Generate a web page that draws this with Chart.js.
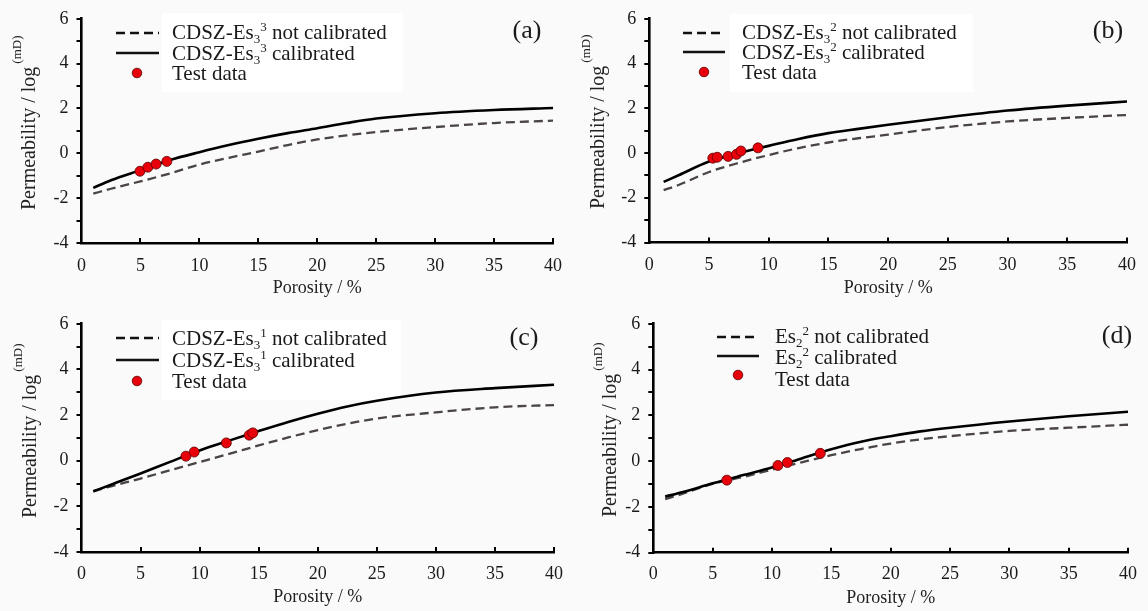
<!DOCTYPE html>
<html>
<head>
<meta charset="utf-8">
<script src="https://cdn.jsdelivr.net/npm/chart.js@4.4.1/dist/chart.umd.min.js"></script>
<style>
html,body{margin:0;padding:0;background:#fafafa;}
#wrap{position:relative;width:1148px;height:611px;overflow:hidden;background:#fafafa;}
canvas{position:absolute;display:block;}
</style>
</head>
<body>
<div id="wrap">
<canvas id="ca" width="574" height="305" style="left:0;top:0"></canvas>
<canvas id="cb" width="574" height="305" style="left:574px;top:0"></canvas>
<canvas id="cc" width="574" height="306" style="left:0;top:305px"></canvas>
<canvas id="cd" width="574" height="306" style="left:574px;top:305px"></canvas>
</div>
<script>
// ---- data ----
const xTickLabels = [0, 5, 10, 15, 20, 25, 30, 35, 40];
const yTickLabels = [-4, -2, 0, 2, 4, 6];
const xAxisTitle = 'Porosity / %';
const yAxisTitle = 'Permeability / log';
const yAxisUnit = '(mD)';

const porosityKnots  = [1, 2.5, 5, 7.5, 10, 12.5, 15, 17.5, 20, 22.5, 25, 30, 35, 40];
const porosityKnotsB = [1.2, 2.5, 5, 7.5, 10, 12.5, 15, 17.5, 20, 22.5, 25, 30, 35, 40];

// (a) CDSZ-Es3^3
const aNotCalibrated = [-1.8, -1.58, -1.25, -0.9, -0.5, -0.2, 0.08, 0.37, 0.62, 0.8, 0.95, 1.17, 1.35, 1.46];
const aCalibrated    = [-1.54, -1.2, -0.75, -0.3, 0.05, 0.37, 0.65, 0.9, 1.12, 1.35, 1.55, 1.79, 1.93, 2.02];
const aTestX = [4.96, 5.63, 6.33, 7.24];
const aTestY = [-0.8, -0.62, -0.48, -0.36];
const aLegend = ['CDSZ-Es_{3}^{3} not calibrated', 'CDSZ-Es_{3}^{3} calibrated', 'Test data'];

// (b) CDSZ-Es3^2
const bNotCalibrated = [-1.66, -1.42, -0.85, -0.44, -0.09, 0.22, 0.47, 0.66, 0.82, 1.0, 1.16, 1.41, 1.57, 1.7];
const bCalibrated    = [-1.29, -0.98, -0.38, 0.0, 0.32, 0.63, 0.89, 1.08, 1.26, 1.43, 1.6, 1.9, 2.12, 2.3];
const bTestX = [5.32, 5.69, 6.6, 7.3, 7.67, 9.1];
const bTestY = [-0.23, -0.19, -0.15, -0.06, 0.09, 0.23];
const bLegend = ['CDSZ-Es_{3}^{2} not calibrated', 'CDSZ-Es_{3}^{2} calibrated', 'Test data'];

// (c) CDSZ-Es3^1
const cNotCalibrated = [-1.34, -1.12, -0.78, -0.42, -0.06, 0.3, 0.67, 1.02, 1.34, 1.62, 1.85, 2.12, 2.34, 2.44];
const cCalibrated    = [-1.34, -1.05, -0.56, -0.05, 0.45, 0.88, 1.3, 1.7, 2.06, 2.38, 2.63, 2.99, 3.18, 3.33];
const cTestX = [8.84, 9.54, 12.26, 14.2, 14.5];
const cTestY = [0.2, 0.38, 0.78, 1.12, 1.22];
const cLegend = ['CDSZ-Es_{3}^{1} not calibrated', 'CDSZ-Es_{3}^{1} calibrated', 'Test data'];

// (d) Es2^2
const dNotCalibrated = [-1.66, -1.42, -0.99, -0.7, -0.37, -0.05, 0.26, 0.53, 0.77, 0.95, 1.09, 1.32, 1.46, 1.59];
const dCalibrated    = [-1.55, -1.35, -0.97, -0.62, -0.28, 0.12, 0.52, 0.85, 1.09, 1.3, 1.46, 1.73, 1.96, 2.16];
const dTestX = [6.2, 10.5, 11.3, 14.07];
const dTestY = [-0.83, -0.19, -0.06, 0.34];
const dLegend = ['Es_{2}^{2} not calibrated', 'Es_{2}^{2} calibrated', 'Test data'];

// ---- helpers ----
const SERIF = '"Liberation Serif", "Times New Roman", serif';
const pairs = (xs, ys) => xs.map((x, i) => ({x: x, y: ys[i]}));
const plain = s => s.replace(/_\{(\d)\}/g, (m, d) => String.fromCharCode(0x2080 + +d))
                    .replace(/\^\{(\d)\}/g, (m, d) => ({'1':'\u00b9','2':'\u00b2','3':'\u00b3'})[d] || d);

function parseRich(text) {
  const segs = [];
  const re = /(_|\^)\{([^}]*)\}/g;
  let last = 0, m;
  while ((m = re.exec(text)) !== null) {
    if (m.index > last) segs.push({t: 'n', s: text.slice(last, m.index)});
    segs.push({t: m[1] === '_' ? 'sub' : 'sup', s: m[2]});
    last = re.lastIndex;
  }
  if (last < text.length) segs.push({t: 'n', s: text.slice(last)});
  return segs;
}
function drawRich(ctx, text, x, y, size) {
  let cx = x;
  ctx.textAlign = 'left';
  ctx.textBaseline = 'alphabetic';
  for (const seg of parseRich(text)) {
    if (seg.t === 'n') {
      ctx.font = size + 'px ' + SERIF;
      ctx.fillText(seg.s, cx, y);
    } else {
      const s = Math.round(size * 0.64);
      ctx.font = s + 'px ' + SERIF;
      ctx.fillText(seg.s, cx, seg.t === 'sub' ? y + size * 0.2 : y - size * 0.36);
    }
    cx += ctx.measureText(seg.s).width;
  }
}

const decoPlugin = {
  id: 'deco',
  beforeDatasetsDraw(chart, args, o) {
    const ctx = chart.ctx;
    if (o.box) {
      ctx.save();
      ctx.fillStyle = '#ffffff';
      ctx.fillRect(o.box[0], o.box[1], o.box[2] - o.box[0], o.box[3] - o.box[1]);
      ctx.restore();
    }
  },
  afterDraw(chart, args, o) {
    const ctx = chart.ctx;
    const xs = chart.scales.x, ys = chart.scales.y;
    ctx.save();
    // inward x tick marks
    ctx.strokeStyle = '#000';
    ctx.lineWidth = 2;
    for (const v of xTickLabels) {
      if (v === 0) continue;
      const px = Math.round(xs.getPixelForValue(v));
      ctx.beginPath();
      ctx.moveTo(px, ys.bottom);
      ctx.lineTo(px, ys.bottom - 5);
      ctx.stroke();
    }
    // legend samples
    const L = o.legend;
    ctx.strokeStyle = '#111';
    ctx.lineWidth = 2.6;
    ctx.setLineDash([9, 5]);
    ctx.beginPath(); ctx.moveTo(L.x0, L.rows[0]); ctx.lineTo(L.x1, L.rows[0]); ctx.stroke();
    ctx.setLineDash([]);
    ctx.beginPath(); ctx.moveTo(L.x0, L.rows[1]); ctx.lineTo(L.x1, L.rows[1]); ctx.stroke();
    ctx.fillStyle = '#e8000a';
    ctx.strokeStyle = '#5a0000';
    ctx.lineWidth = 0.8;
    ctx.beginPath(); ctx.arc(L.dot, L.rows[2], 4.8, 0, Math.PI * 2); ctx.fill(); ctx.stroke();
    ctx.fillStyle = '#1a1a1a';
    L.labels.forEach((t, i) => drawRich(ctx, t, L.tx, L.textRows[i] + 7, L.size));
    // panel letter
    ctx.font = '26px ' + SERIF;
    ctx.textAlign = 'center';
    ctx.textBaseline = 'middle';
    ctx.fillText(o.letter[0], o.letter[1], o.letter[2]);
    // y axis title with raised unit
    const T = o.ytitle;
    ctx.translate(T.cx, T.y0);
    ctx.rotate(-Math.PI / 2);
    ctx.font = '20px ' + SERIF;
    ctx.textAlign = 'left';
    ctx.textBaseline = 'middle';
    ctx.fillStyle = '#222';
    ctx.fillText(yAxisTitle, 0, 0);
    const w = ctx.measureText(yAxisTitle).width;
    ctx.font = '13px ' + SERIF;
    ctx.fillText(yAxisUnit, w + 3, -12);
    ctx.restore();
  }
};

function makeChart(id, p) {
  const canvas = document.getElementById(id);
  const W = canvas.width, H = canvas.height;
  return new Chart(canvas, {
    type: 'scatter',
    data: {
      datasets: [
        { label: 'Test data', data: pairs(p.tx, p.ty), showLine: false,
          pointRadius: 5, pointBackgroundColor: '#e8000a', pointBorderColor: '#5a0000', pointBorderWidth: 0.8 },
        { label: plain(p.legend[1]), data: pairs(p.knots, p.cal), showLine: true, pointRadius: 0,
          borderColor: '#000', borderWidth: 2.6, cubicInterpolationMode: 'monotone' },
        { label: plain(p.legend[0]), data: pairs(p.knots, p.notcal), showLine: true, pointRadius: 0,
          borderColor: '#4a4444', borderWidth: 2.3, borderDash: [9, 5], cubicInterpolationMode: 'monotone' }
      ]
    },
    options: {
      responsive: false,
      animation: false,
      events: [],
      layout: { padding: { left: 0, top: p.top, right: W - p.right, bottom: 0 } },
      plugins: {
        legend: { display: false },
        tooltip: { enabled: false },
        deco: { legend: p.leg, letter: p.letter, ytitle: p.ytitle, box: p.box }
      },
      scales: {
        x: {
          type: 'linear', min: 0, max: 40,
          afterBuildTicks: s => { s.ticks = xTickLabels.map(v => ({value: v})); },
          grid: { display: false, drawTicks: false },
          border: { display: true, color: '#000', width: 2.6 },
          ticks: { color: '#1a1a1a', font: { family: SERIF, size: 18 }, padding: p.xpad, maxRotation: 0, autoSkip: false },
          title: { display: true, text: xAxisTitle, color: '#222', font: { family: SERIF, size: 18 }, padding: { top: 0, bottom: p.titlePad } },
          afterFit: s => { s.height = H - p.bottom; }
        },
        y: {
          type: 'linear', min: -4, max: 6,
          ticks: { stepSize: 1, autoSkip: false, color: '#1a1a1a', font: { family: SERIF, size: 18 }, padding: 8,
                   callback: v => yTickLabels.includes(v) ? String(v) : '' },
          grid: { display: true, drawOnChartArea: false, drawTicks: true, tickLength: 5, color: '#000', lineWidth: 2 },
          border: { display: true, color: '#000', width: 2.6 },
          afterFit: s => { s.width = p.left; }
        }
      }
    },
    plugins: [decoPlugin]
  });
}

makeChart('ca', {
  knots: porosityKnots, cal: aCalibrated, notcal: aNotCalibrated, tx: aTestX, ty: aTestY, legend: aLegend,
  left: 81.5, right: 562.5, top: 15, bottom: 243, xpad: 12, titlePad: 6,
  leg: { x0: 116, x1: 159, dot: 137, tx: 172, rows: [33, 53, 73], textRows: [32, 53, 73], size: 21, labels: aLegend },
  box: [162, 13, 403, 92], letter: ['(a)', 527, 31], ytitle: { cx: 30, y0: 210 }
});
makeChart('cb', {
  knots: porosityKnotsB, cal: bCalibrated, notcal: bNotCalibrated, tx: bTestX, ty: bTestY, legend: bLegend,
  left: 75.3, right: 556, top: 15, bottom: 242.5, xpad: 12, titlePad: 6,
  leg: { x0: 109, x1: 151, dot: 130, tx: 168, rows: [33, 52, 72], textRows: [32, 52, 72], size: 21, labels: bLegend },
  box: [156, 14, 399, 92], letter: ['(b)', 534, 31], ytitle: { cx: 25, y0: 209 }
});
makeChart('cc', {
  knots: porosityKnots, cal: cCalibrated, notcal: cNotCalibrated, tx: cTestX, ty: cTestY, legend: cLegend,
  left: 81.5, right: 562.5, top: 17, bottom: 247, xpad: 11, titlePad: 3,
  leg: { x0: 116, x1: 159, dot: 137, tx: 172, rows: [33, 55, 76], textRows: [33, 55, 76], size: 21, labels: cLegend },
  box: [162, 15, 401, 95], letter: ['(c)', 524, 33], ytitle: { cx: 31, y0: 213 }
});
makeChart('cd', {
  knots: porosityKnots, cal: dCalibrated, notcal: dNotCalibrated, tx: dTestX, ty: dTestY, legend: dLegend,
  left: 79.3, right: 563, top: 15, bottom: 247.7, xpad: 11, titlePad: 2,
  leg: { x0: 143, x1: 185, dot: 164, tx: 201, rows: [32, 51, 70], textRows: [31, 52, 74], size: 21, labels: dLegend },
  box: null, letter: ['(d)', 543, 31], ytitle: { cx: 37, y0: 212 }
});
</script>
</body>
</html>
